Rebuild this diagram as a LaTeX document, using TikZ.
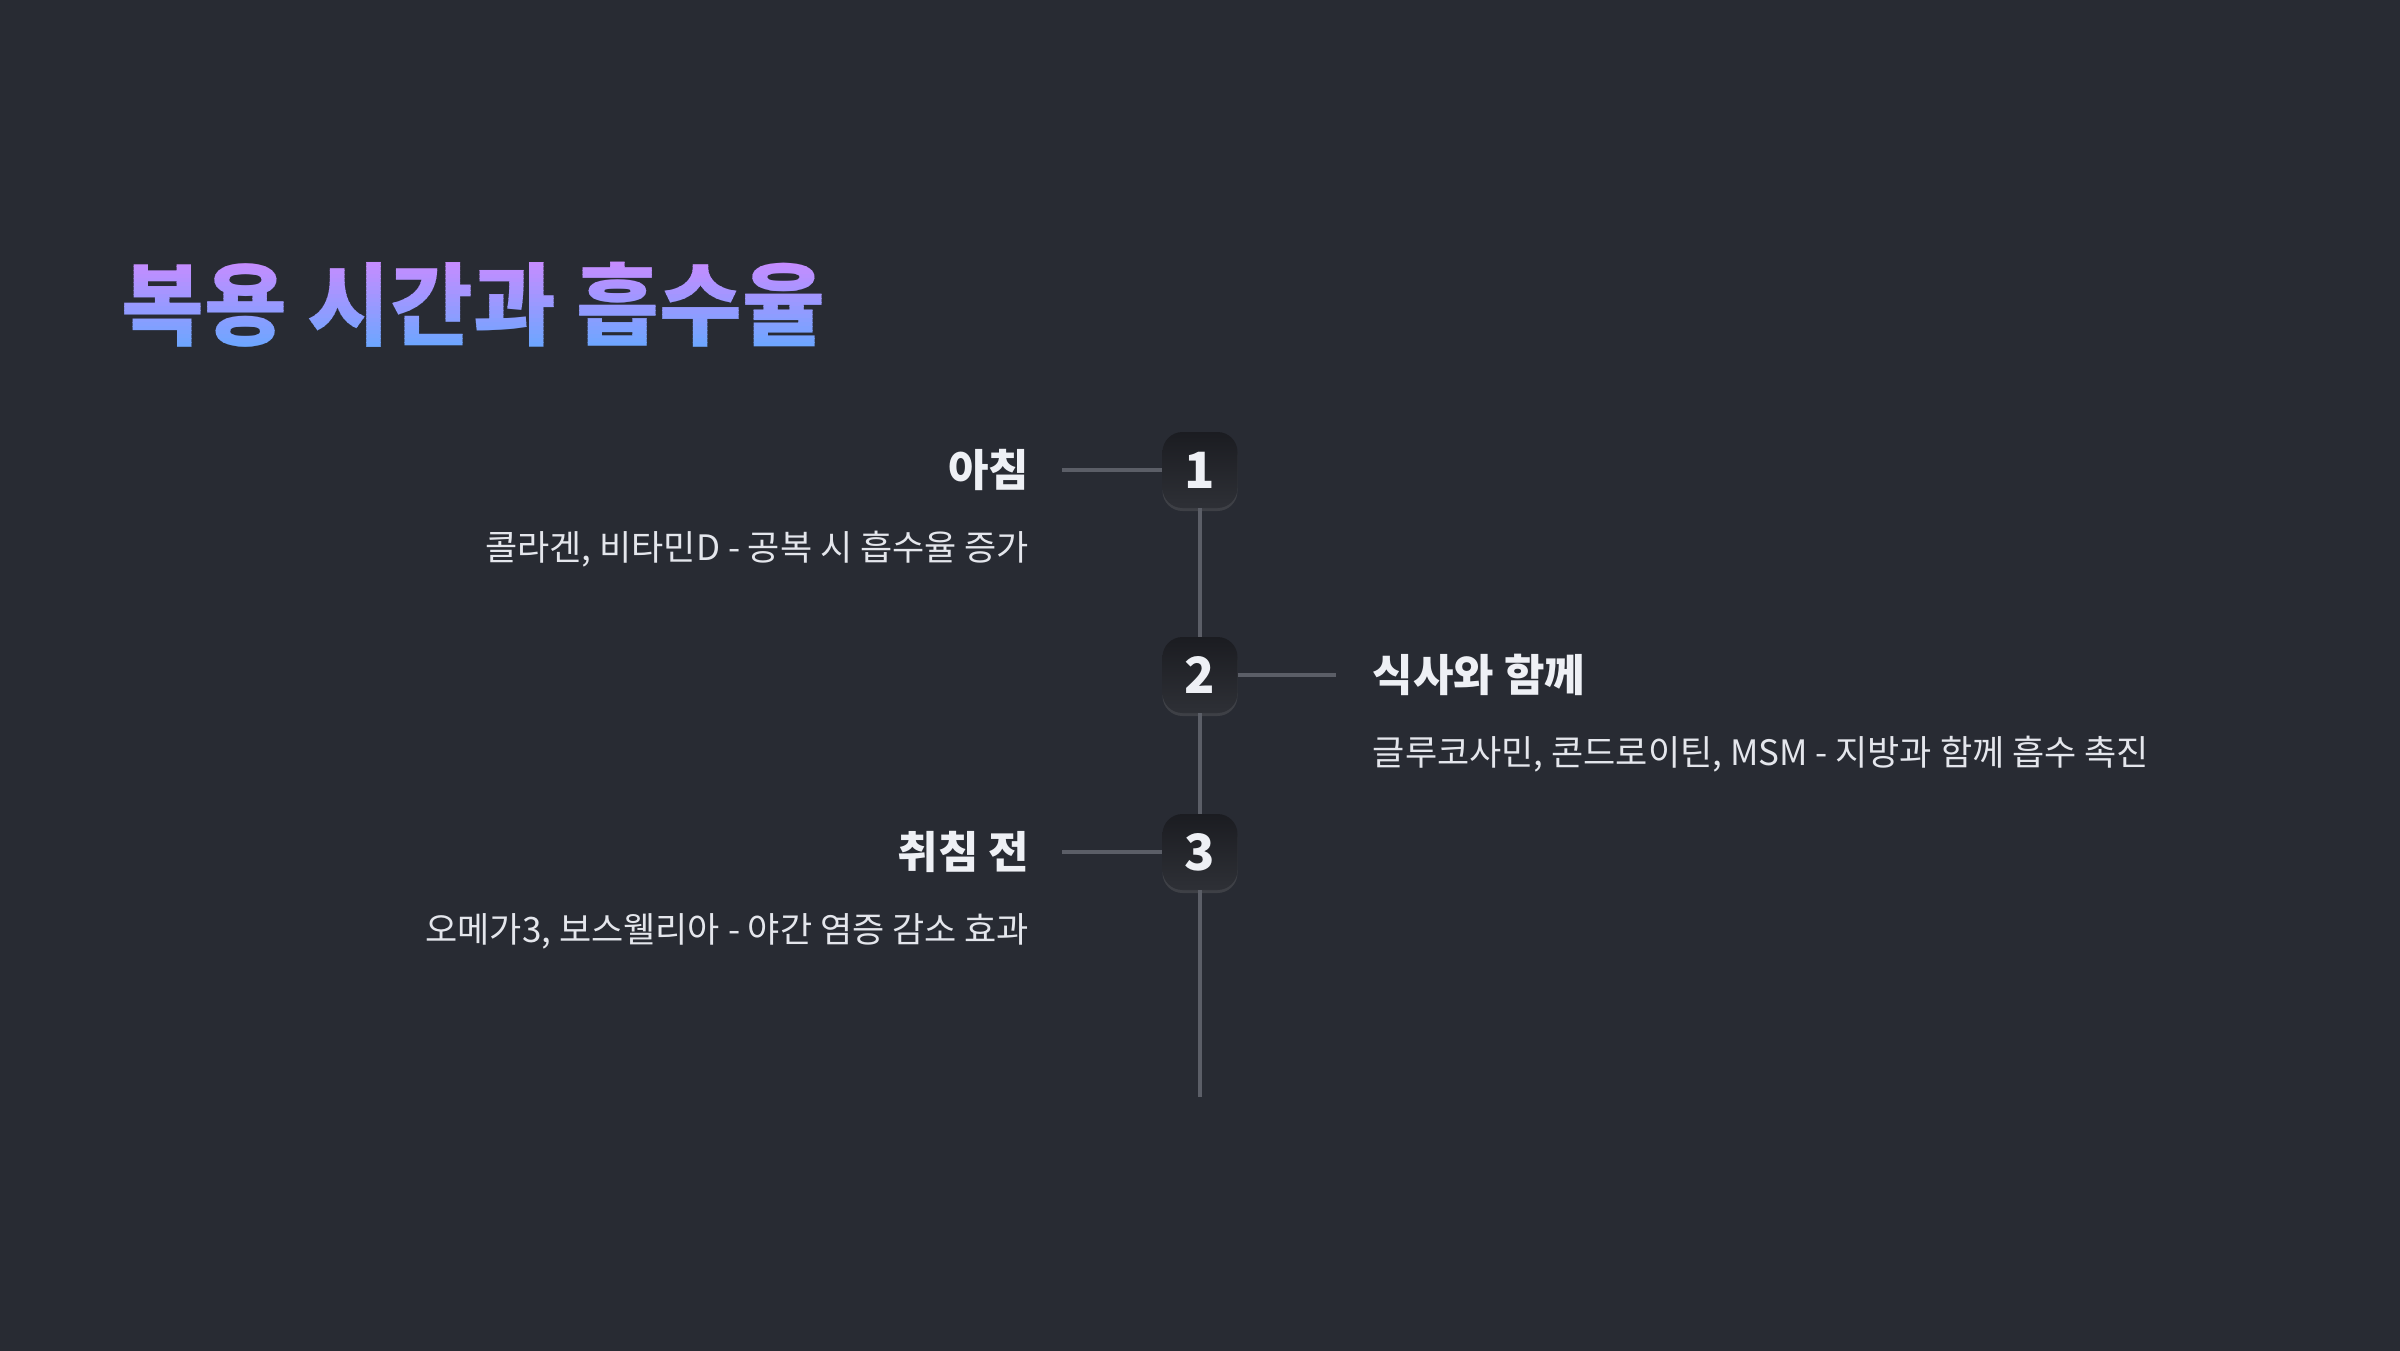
\documentclass[tikz,border=0pt]{standalone}
\usepackage{fontspec}
\setmainfont{Noto Sans CJK KR}
\usepackage{tikz}
\usetikzlibrary{positioning, calc, shadows}

\definecolor{bgdark}{HTML}{282B33}
\definecolor{titletop}{HTML}{C98BFF}
\definecolor{titlebot}{HTML}{66A8FF}
\definecolor{linegray}{HTML}{5B5E67}
\definecolor{badgetop}{HTML}{1B1C21}
\definecolor{badgebot}{HTML}{2E3036}
\definecolor{textwhite}{HTML}{EEF0F5}
\definecolor{descwhite}{HTML}{E4E6EC}

\begin{document}
\begin{tikzpicture}[
  x=1pt, y=-1pt,
  title/.style={inner sep=0pt, anchor=west, font=\fontsize{90}{100}\selectfont\bfseries},
  badge/.style={rounded corners=20pt, minimum width=75pt, minimum height=76pt, inner sep=0pt, top color=badgetop, bottom color=badgebot, text=textwhite, font=\fontsize{50}{50}\selectfont\bfseries, drop shadow={opacity=0.25, shadow xshift=0pt, shadow yshift=-3pt}},
  head/.style={inner sep=0pt, text=textwhite, font=\fontsize{44}{50}\selectfont\bfseries},
  desc/.style={inner sep=0pt, text=descwhite, font=\fontsize{35}{40}\selectfont},
  link/.style={draw=linegray, line width=4pt}
]
  \useasboundingbox (0,0) rectangle (2400,1350);
  \fill[bgdark] (-10,-10) rectangle (2410,1360);
  \foreach \i in {0,...,23} {
    \pgfmathsetmacro{\mix}{100-100*\i/23}
    \begin{scope}
      \clip (60,{258+4*\i}) rectangle (900,{262+4*\i});
      \node[title, text=titletop!\mix!titlebot] (title\i) at (121,305) {복용 시간과 흡수율};
    \end{scope}
  }
  \begin{scope}
    \clip (60,0) rectangle (900,258);
    \node[title, text=titletop] (titletopcap) at (121,305) {복용 시간과 흡수율};
  \end{scope}
  \begin{scope}
    \clip (60,354) rectangle (900,400);
    \node[title, text=titlebot] (titlebotcap) at (121,305) {복용 시간과 흡수율};
  \end{scope}
  \node[badge] (b1) at (1200,470) {1};
  \node[badge] (b2) at (1200,675) {2};
  \node[badge] (b3) at (1200,852) {3};
  \coordinate (tail) at (1200,1097);
  \coordinate[left=100pt of b1] (c1);
  \coordinate[right=98pt of b2] (c2);
  \coordinate[left=100pt of b3] (c3);
  \node[head, left=133pt of b1] (h1) {아침};
  \node[head, right=135pt of b2] (h2) {식사와 함께};
  \node[head, left=133pt of b3] (h3) {취침 전};
  \node[desc, anchor=east] (d1) at ($(h1.east)+(0,79)$) {콜라겐, 비타민D - 공복 시 흡수율 증가};
  \node[desc, anchor=west] (d2) at ($(h2.west)+(0,79)$) {글루코사민, 콘드로이틴, MSM - 지방과 함께 흡수 촉진};
  \node[desc, anchor=east] (d3) at ($(h3.east)+(0,79)$) {오메가3, 보스웰리아 - 야간 염증 감소 효과};
  \draw[link] (b1.south) -- (b2.north);
  \draw[link] (b2.south) -- (b3.north);
  \draw[link] (b3.south) -- (tail);
  \draw[link] (c1) -- (b1.west);
  \draw[link] (b2.east) -- (c2);
  \draw[link] (c3) -- (b3.west);
\end{tikzpicture}
\end{document}
